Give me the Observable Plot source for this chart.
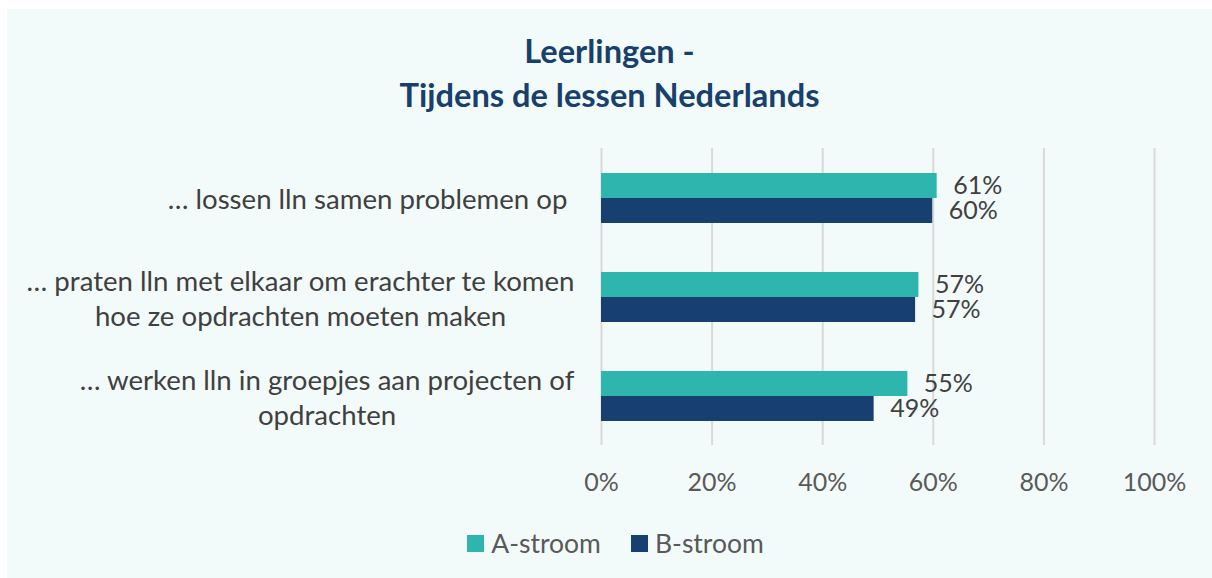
<!DOCTYPE html>
<html>
<head>
<meta charset="utf-8">
<script src="https://cdn.jsdelivr.net/npm/d3@7"></script>
<script src="https://cdn.jsdelivr.net/npm/@observablehq/plot@0.6"></script>
<style>
  html, body { margin: 0; padding: 0; background: #ffffff; width: 1212px; height: 578px; overflow: hidden; }
  #panel { position: absolute; left: 7px; top: 9px; width: 1205px; height: 569px; background: #f3fbfa; font-family: Lato, sans-serif; }
  #title { position: absolute; left: 0; width: 100%; top: 20px; text-align: center; font-weight: 700; font-size: 32.6px; line-height: 44px; color: #17406d; }
  #chart { position: absolute; left: 0; top: 119px; }
  #legend { position: absolute; left: 12px; width: 1193px; top: 518px; display: flex; justify-content: center; }
  .lg-swatches { margin: 0 !important; min-height: 0 !important; }
  .lg-swatch { margin-right: 30px !important; }
  .lg-swatch:last-child { margin-right: 0 !important; }
  .lg-swatch > svg { margin-right: 7px !important; }
</style>
</head>
<body>
<div id="panel">
  <div id="title">Leerlingen -<br>Tijdens de lessen Nederlands</div>
  <div id="chart"></div>
  <div id="legend"></div>
</div>
<script>
const categories = [
  "… lossen lln samen problemen op ",
  "… praten lln met elkaar om erachter te komen\nhoe ze opdrachten moeten maken",
  "… werken lln in groepjes aan projecten of\nopdrachten"
];
const seriesNames = ["A-stroom", "B-stroom"];
const aValues = [60.7, 57.4, 55.4];
const bValues = [59.9, 56.8, 49.3];
const xTicks = [0, 20, 40, 60, 80, 100];
const colors = ["#2eb5ad", "#173f70"];

const rows = [];
categories.forEach((c, i) => {
  rows.push({cat: c, series: seriesNames[0], value: aValues[i]});
  rows.push({cat: c, series: seriesNames[1], value: bValues[i]});
});

const chart = Plot.plot({
  width: 1205,
  height: 377,
  marginTop: 20,
  marginBottom: 60,
  marginLeft: 594,
  marginRight: 58,
  style: {background: "transparent", fontFamily: "Lato, sans-serif", fontSize: "25px", overflow: "visible"},
  x: {domain: [0, 100]},
  y: {domain: seriesNames, axis: null, paddingInner: 0, paddingOuter: 0.941},
  fy: {domain: categories, padding: 0},
  color: {domain: seriesNames, range: colors},
  marks: [
    Plot.gridX(xTicks, {stroke: "#d9d9d9", strokeOpacity: 1, strokeWidth: 2}),
    Plot.barX(rows, {x: "value", y: "series", fy: "cat", fill: "series"}),
    Plot.text(rows, {x: "value", y: "series", fy: "cat", text: d => `${Math.round(d.value)}%`, textAnchor: "start", dx: 16, fill: "#404040", fontSize: 25}),
    Plot.axisX(xTicks, {tickSize: 0, tickPadding: 28, tickFormat: d => d + "%", fill: "#595959", fontSize: 25, label: null}),
    Plot.axisFy({anchor: "left", tickSize: 0, tickPadding: 27, fill: "#404040", fontSize: 27.6, lineHeight: 1.3, label: null})
  ]
});
document.getElementById("chart").append(chart);

chart.querySelectorAll('g[aria-label="fy-axis tick label"] text').forEach(t => {
  t.style.whiteSpace = "pre";
  const w = t.getBBox().width;
  t.setAttribute("text-anchor", "middle");
  const tr = t.getAttribute("transform") || "";
  t.setAttribute("transform", tr + ` translate(${-w / 2},0)`);
});

const legend = Plot.legend({
  color: {domain: seriesNames, range: colors},
  legend: "swatches",
  swatchSize: 17,
  className: "lg",
  style: {fontSize: "26.5px", fontFamily: "Lato, sans-serif", color: "#595959", background: "transparent"}
});
document.getElementById("legend").append(legend);
</script>
</body>
</html>
